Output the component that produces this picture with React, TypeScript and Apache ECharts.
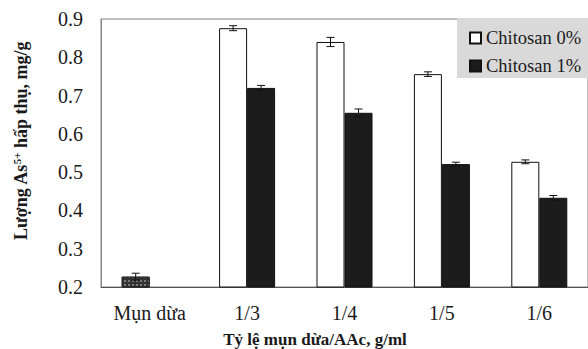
import React, { useEffect, useRef } from "react";
import * as echarts from "echarts";

const categories = ["Mụn dừa", "1/3", "1/4", "1/5", "1/6"];
const seriesNames = ["Chitosan 0%", "Chitosan 1%"];
const chitosan0 = [0.227, 0.876, 0.84, 0.756, 0.527];
const chitosan0Err = [0.009, 0.0065, 0.012, 0.006, 0.005];
const chitosan1: (number | null)[] = [null, 0.72, 0.655, 0.521, 0.433];
const chitosan1Err: (number | null)[] = [null, 0.0065, 0.01, 0.005, 0.006];
const yTicks = { min: 0.2, max: 0.9, interval: 0.1 };
const xTitle = "Tỷ lệ mụn dừa/AAc, g/ml";
const yTitle = "Lượng As{sup|5+} hấp thụ, mg/g";

const FONT = "Liberation Serif";
const BAR_W = 28;

export default function App() {
  const ref = useRef<HTMLDivElement>(null);
  useEffect(() => {
    if (!ref.current) return;
    const chart = echarts.init(ref.current, null, { renderer: "svg" });

    const errData: number[][] = [];
    chitosan0.forEach((v, i) => {
      errData.push([i, v - chitosan0Err[i], v + chitosan0Err[i], -1]);
    });
    chitosan1.forEach((v, i) => {
      const e = chitosan1Err[i];
      if (v != null && e != null) errData.push([i, v - e, v + e, 1]);
    });

    const s0Data = chitosan0.map((v, i) =>
      i === 0
        ? {
            value: v,
            itemStyle: {
              color: "#333333",
              borderColor: "#222",
              decal: {
                symbol: "rect",
                symbolSize: 1,
                color: "rgba(255,255,255,0.35)",
                dashArrayX: [2, 2],
                dashArrayY: [2, 2],
              },
            },
          }
        : v
    );

    chart.setOption({
      animation: false,
      textStyle: { fontFamily: FONT },
      grid: { left: 101, top: 19, width: 490, height: 268, show: true, borderColor: "#808080", borderWidth: 1 },
      legend: {
        data: seriesNames,
        orient: "vertical",
        left: 469,
        top: 28,
        padding: 0,
        itemWidth: 11,
        itemHeight: 11,
        itemGap: 8,
        icon: "rect",
        textStyle: { fontFamily: FONT, fontWeight: "normal", fontSize: 18.5, color: "#1a1a1a", lineHeight: 20 },
        z: 10,
      },
      graphic: [
        {
          type: "rect",
          shape: { x: 457, y: 18, width: 140, height: 60 },
          style: { fill: "#d9d9d9" },
          z: 9,
        },
        {
          type: "text",
          x: 315,
          y: 339,
          style: {
            text: xTitle,
            fontFamily: FONT,
            fontSize: 17,
            fontWeight: "bold",
            fill: "#1a1a1a",
            align: "center",
            verticalAlign: "middle",
          },
        },
        {
          type: "text",
          x: 21,
          y: 141,
          rotation: Math.PI / 2,
          style: {
            text: yTitle,
            fontFamily: FONT,
            fontSize: 18,
            fontWeight: "bold",
            fill: "#1a1a1a",
            align: "center",
            verticalAlign: "middle",
            rich: {
              sup: { fontSize: 11, fontWeight: "bold", fontFamily: FONT, fill: "#1a1a1a", padding: [0, 0, 9, 0] },
            },
          },
        },
      ],
      xAxis: {
        type: "category",
        data: categories,
        axisLine: { lineStyle: { color: "#555", width: 1 } },
        axisTick: { inside: true, length: 6, lineStyle: { color: "#555" } },
        axisLabel: { fontFamily: FONT, fontSize: 20, color: "#1a1a1a", margin: 16 },
      },
      yAxis: {
        type: "value",
        min: yTicks.min,
        max: yTicks.max,
        interval: yTicks.interval,
        splitLine: { show: false },
        axisLine: { show: true, lineStyle: { color: "#888" } },
        axisTick: { show: false },
        axisLabel: {
          fontFamily: FONT,
          fontSize: 20,
          color: "#1a1a1a",
          margin: 18,
          formatter: (v: number) => v.toFixed(1),
        },
      },
      series: [
        {
          name: seriesNames[0],
          type: "bar",
          data: s0Data,
          barWidth: BAR_W,
          barGap: "0%",
          itemStyle: { color: "#ffffff", borderColor: "#111", borderWidth: 1 },
        },
        {
          name: seriesNames[1],
          type: "bar",
          data: chitosan1.map((v) => (v == null ? "-" : v)),
          barWidth: BAR_W,
          barGap: "0%",
          itemStyle: { color: "#1c1c1c", borderColor: "#111", borderWidth: 1 },
        },
        {
          type: "custom",
          name: "err",
          data: errData,
          z: 5,
          encode: { x: 0, y: [1, 2] },
          renderItem: (params: any, api: any) => {
            const i = api.value(0);
            const side = api.value(3);
            const lo = api.coord([i, api.value(1)]);
            const hi = api.coord([i, api.value(2)]);
            const x = lo[0] + (side * BAR_W) / 2;
            const cap = 4;
            const style = { stroke: "#111", lineWidth: 1, fill: "none" };
            return {
              type: "group",
              children: [
                { type: "line", shape: { x1: x, y1: lo[1], x2: x, y2: hi[1] }, style },
                { type: "line", shape: { x1: x - cap, y1: lo[1], x2: x + cap, y2: lo[1] }, style },
                { type: "line", shape: { x1: x - cap, y1: hi[1], x2: x + cap, y2: hi[1] }, style },
              ],
            };
          },
        },
      ],
    });
    return () => chart.dispose();
  }, []);
  return (
    <div
      ref={ref}
      style={{ position: "fixed", left: 0, top: 0, width: 588, height: 349, background: "#fff" }}
    />
  );
}
